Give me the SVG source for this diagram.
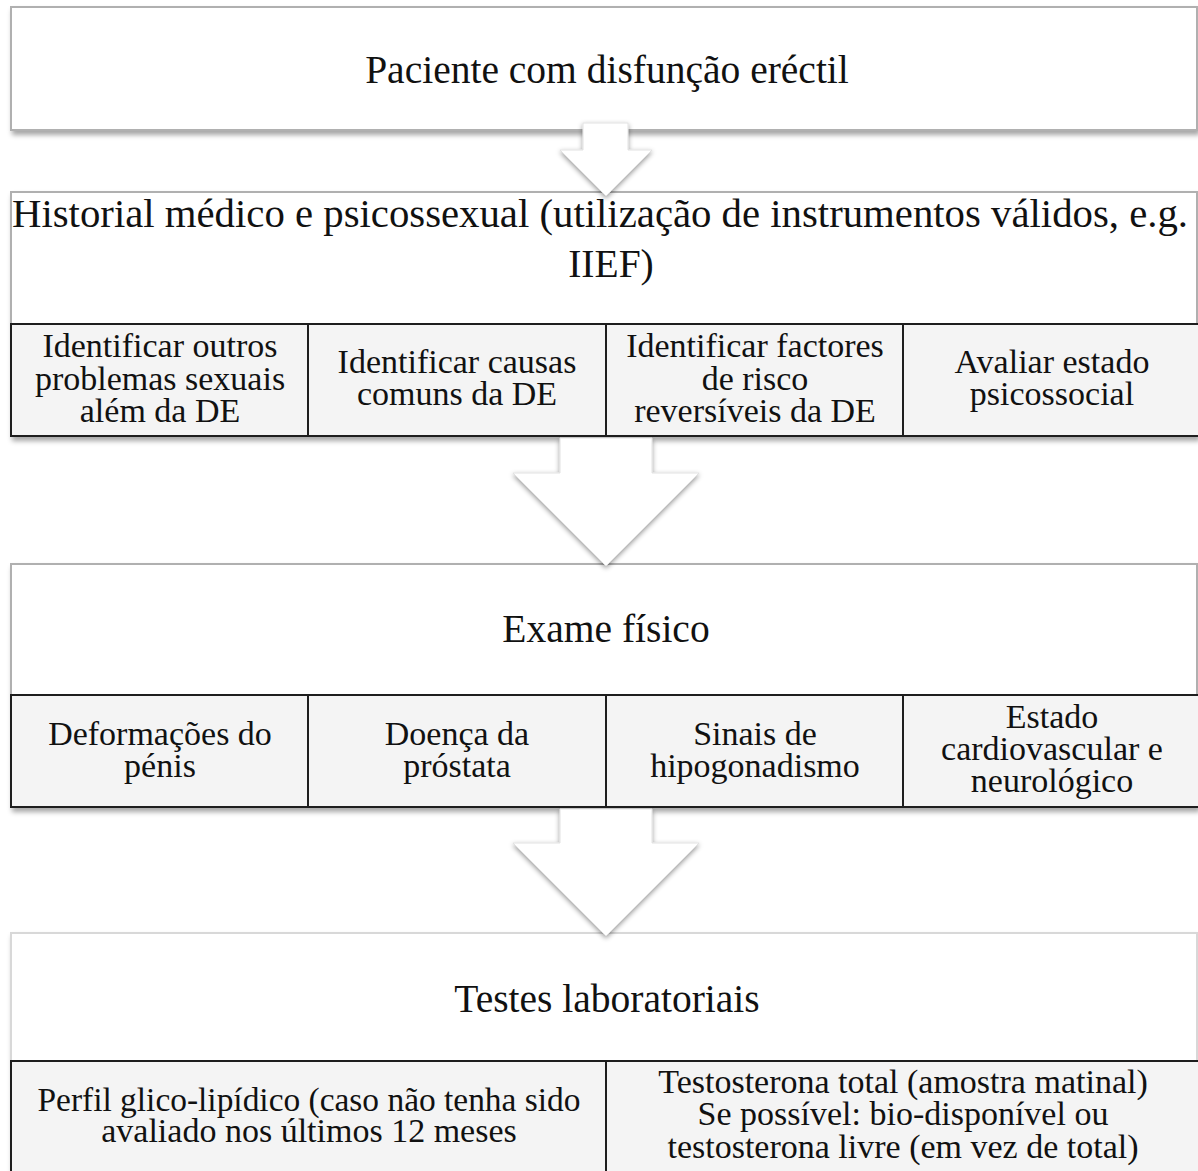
<svg xmlns="http://www.w3.org/2000/svg" width="1198" height="1171" viewBox="0 0 1198 1171">
<defs>
<filter id="sh" x="-5%" y="-20%" width="115%" height="150%">
<feDropShadow dx="2" dy="4" stdDeviation="2.5" flood-color="#000" flood-opacity="0.35"/>
</filter>
<filter id="ash" x="-20%" y="-20%" width="140%" height="150%">
<feDropShadow dx="0" dy="2" stdDeviation="2.5" flood-color="#000" flood-opacity="0.4"/>
</filter>
<style>
.hdr{fill:#fff;stroke:#b0b0b0;stroke-width:2}
.sub{fill:#f4f4f4;stroke:#1e1e1e;stroke-width:2}
.t{font-family:"Liberation Serif","DejaVu Serif",serif;fill:#111;text-anchor:middle}
.big{font-size:39.5px}
.sm{font-size:34px}
.arr{fill:#fff;stroke:#e2e2e2;stroke-width:1}
</style>
</defs>

<g id="n1">
<rect class="hdr" x="11" y="7" width="1186" height="123" filter="url(#sh)"/>
<text class="t big" x="607" y="83">Paciente com disfunção eréctil</text>
</g>

<g id="n2">
<rect class="hdr" x="11" y="192" width="1186" height="244" filter="url(#sh)"/>
<text class="t big" x="600" y="227" textLength="1176" lengthAdjust="spacingAndGlyphs">Historial médico e psicossexual (utilização de instrumentos válidos, e.g.</text>
<text class="t big" x="611" y="277">IIEF)</text>
</g>
<g id="n2a">
<rect class="sub" x="11" y="324" width="297" height="112"/>
<text class="t sm" x="160" y="357">Identificar outros</text>
<text class="t sm" x="160" y="390">problemas sexuais</text>
<text class="t sm" x="160" y="422">além da DE</text>
</g>
<g id="n2b">
<rect class="sub" x="308" y="324" width="298" height="112"/>
<text class="t sm" x="457" y="373">Identificar causas</text>
<text class="t sm" x="457" y="405">comuns da DE</text>
</g>
<g id="n2c">
<rect class="sub" x="606" y="324" width="297" height="112"/>
<text class="t sm" x="755" y="357">Identificar factores</text>
<text class="t sm" x="755" y="390">de risco</text>
<text class="t sm" x="755" y="422">reversíveis da DE</text>
</g>
<g id="n2d">
<rect class="sub" x="903" y="324" width="296" height="112"/>
<text class="t sm" x="1052" y="373">Avaliar estado</text>
<text class="t sm" x="1052" y="405">psicossocial</text>
</g>

<g id="n3">
<rect class="hdr" x="11" y="564" width="1186" height="243" filter="url(#sh)"/>
<text class="t big" x="606" y="642">Exame físico</text>
</g>
<g id="n3a">
<rect class="sub" x="11" y="695" width="297" height="112"/>
<text class="t sm" x="160" y="745">Deformações do</text>
<text class="t sm" x="160" y="777">pénis</text>
</g>
<g id="n3b">
<rect class="sub" x="308" y="695" width="298" height="112"/>
<text class="t sm" x="457" y="745">Doença da</text>
<text class="t sm" x="457" y="777">próstata</text>
</g>
<g id="n3c">
<rect class="sub" x="606" y="695" width="297" height="112"/>
<text class="t sm" x="755" y="745">Sinais de</text>
<text class="t sm" x="755" y="777">hipogonadismo</text>
</g>
<g id="n3d">
<rect class="sub" x="903" y="695" width="296" height="112"/>
<text class="t sm" x="1052" y="728">Estado</text>
<text class="t sm" x="1052" y="760">cardiovascular e</text>
<text class="t sm" x="1052" y="792">neurológico</text>
</g>

<g id="n4">
<rect class="hdr" x="11" y="933" width="1186" height="260" filter="url(#sh)" style="stroke:#d8d8d8"/>
<text class="t big" x="607" y="1012">Testes laboratoriais</text>
</g>
<g id="n4a">
<rect class="sub" x="11" y="1061" width="595" height="130"/>
<text class="t sm" x="309" y="1111" textLength="543" lengthAdjust="spacingAndGlyphs">Perfil glico-lipídico (caso não tenha sido</text>
<text class="t sm" x="309" y="1142">avaliado nos últimos 12 meses</text>
</g>
<g id="n4b">
<rect class="sub" x="606" y="1061" width="593" height="130"/>
<text class="t sm" x="903" y="1093">Testosterona total (amostra matinal)</text>
<text class="t sm" x="903" y="1125">Se possível: bio-disponível ou</text>
<text class="t sm" x="903" y="1158">testosterona livre (em vez de total)</text>
</g>

<g id="connectors" filter="url(#ash)">
<path class="arr" d="M583,123 L628,123 L628,150 L652,150 L606,196 L560,150 L583,150 Z"/>
<path class="arr" d="M560,438 L652,438 L652,473 L699,473 L606,566 L513,473 L560,473 Z"/>
<path class="arr" d="M560,809 L652,809 L652,843 L699,843 L606,936 L513,843 L560,843 Z"/>
</g>
</svg>
